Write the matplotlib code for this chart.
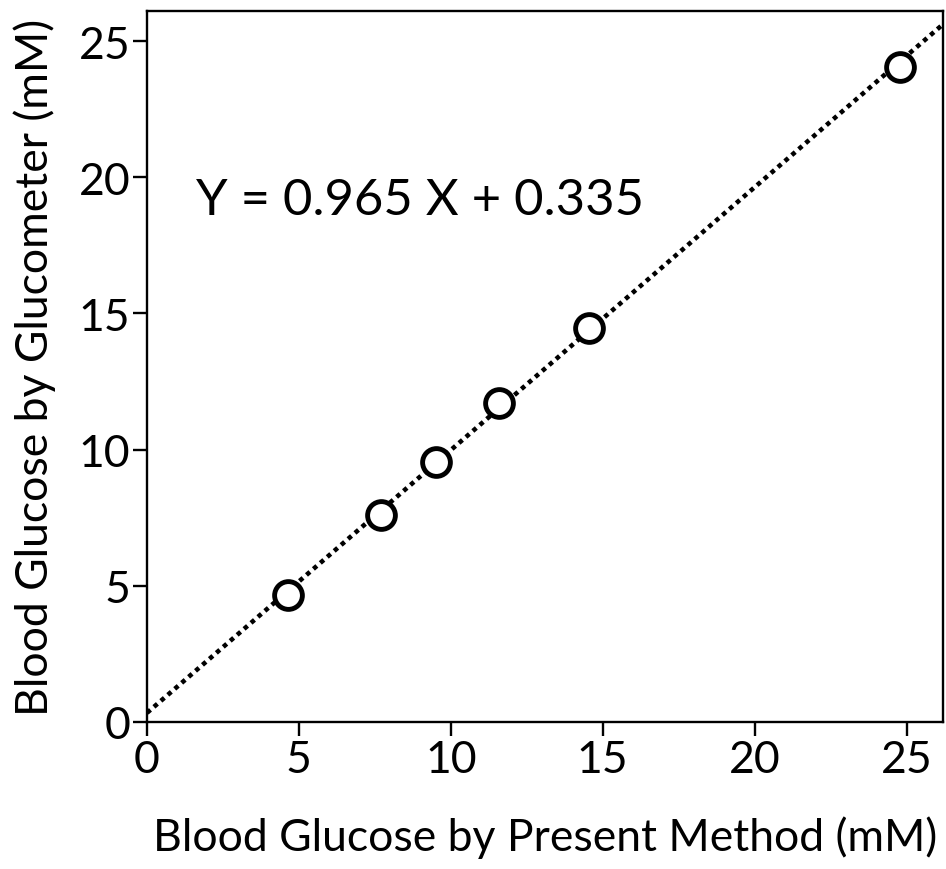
import matplotlib
matplotlib.use("Agg")
import matplotlib.pyplot as plt
import numpy as np

# readings from the two methods (mM)
present_method = [4.65, 7.7, 9.5, 11.6, 14.55, 24.8]
glucometer = [4.65, 7.6, 9.55, 11.7, 14.45, 24.05]
slope = 0.965
intercept = 0.335
ticks = [0, 5, 10, 15, 20, 25]

plt.rcParams['font.family'] = ['Lato', 'DejaVu Sans']

fig = plt.figure(figsize=(9.46, 8.7), dpi=100)
ax = fig.add_axes([0.1554, 0.169, 0.8414, 0.817])

xs = np.array([0, 26.2])
ax.plot(xs, slope * xs + intercept, color='black', lw=3.3,
        linestyle=(0, (1, 1.0)), zorder=2)
ax.plot(present_method, glucometer, 'o', ms=20, mfc='white', mec='black',
        mew=3.5, zorder=3)

ax.text(1.6, 19.15, "Y = 0.965 X + 0.335", fontsize=36.5, va='center', ha='left')

ax.set_xlim(0, 26.2)
ax.set_ylim(0, 26.1)
ax.set_xticks(ticks)
ax.set_yticks(ticks)
for s in ax.spines.values():
    s.set_linewidth(1.7)
ax.tick_params(direction='out', length=10, width=1.7, labelsize=32, pad=2)

ax.set_xlabel("Blood Glucose by Present Method (mM)", fontsize=32, labelpad=26)
ax.set_ylabel("Blood Glucose by Glucometer (mM)", fontsize=32, labelpad=16)

fig.savefig("out.png", dpi=100)
